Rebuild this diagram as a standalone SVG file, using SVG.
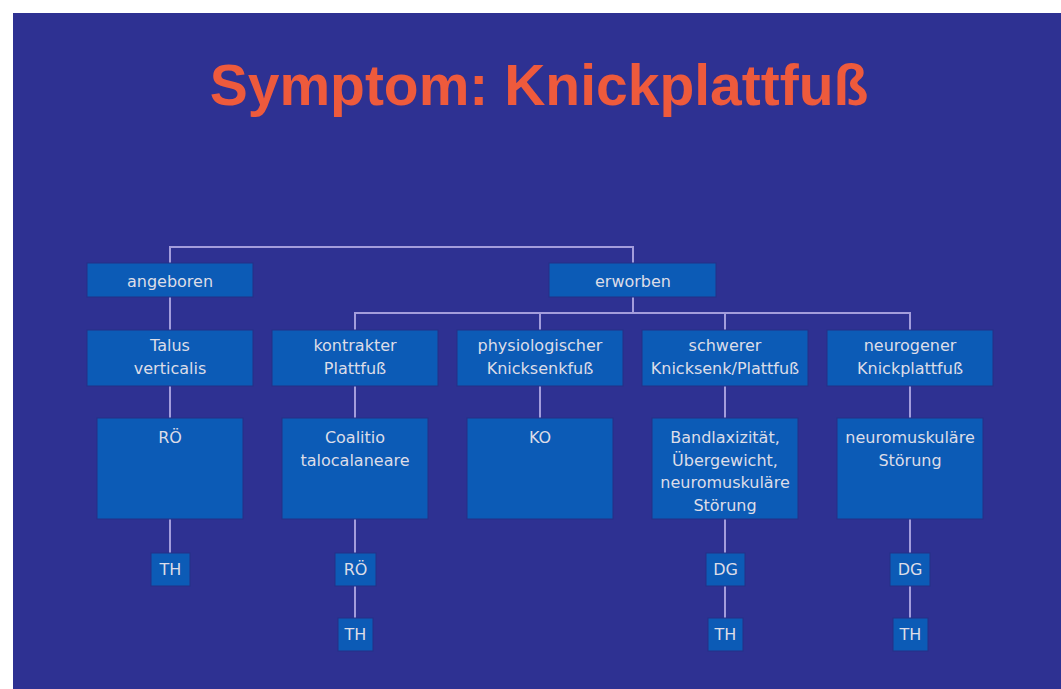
<svg xmlns="http://www.w3.org/2000/svg" width="1061" height="689" viewBox="0 0 1061 689">
<style>
.bx{fill:#0c5bb6;stroke:#243086;stroke-width:1}
.t{font-family:"DejaVu Sans",sans-serif;font-size:16px;fill:#dcdde8;text-anchor:middle}
.ln{stroke:#a39ddc;stroke-width:2;fill:none}
.title{font-family:"Liberation Sans",Arial,sans-serif;font-weight:bold;font-size:57px;fill:#ee5a3c;text-anchor:middle}
</style>
<rect x="0" y="0" width="1061" height="689" fill="#ffffff"/>
<rect x="13" y="13" width="1048" height="676" fill="#2e3192"/>
<text class="title" x="539" y="105">Symptom: Knickplattfuß</text>
<g id="connectors">
<path class="ln" d="M170 263V247H633V263"/>
<path class="ln" d="M633 297V313M355 330V313H910V330M540 313V330M725 313V330"/>
<path class="ln" d="M170 297V330"/>
<path class="ln" d="M170 386V418M355 386V418M540 386V418M725 386V418M910 386V418"/>
<path class="ln" d="M170 519V553M355 519V553M725 519V553M910 519V553"/>
<path class="ln" d="M355 586V618M725 586V618M910 586V618"/>
</g>
<g id="angeboren"><rect class="bx" x="87" y="263" width="166" height="34"/><text class="t" x="170" y="287">angeboren</text></g>
<g id="erworben"><rect class="bx" x="549" y="263" width="167" height="34"/><text class="t" x="633" y="287">erworben</text></g>
<g id="talus"><rect class="bx" x="87" y="330" width="166" height="56"/><text class="t" x="170" y="351">Talus</text><text class="t" x="170" y="374">verticalis</text></g>
<g id="kontrakter"><rect class="bx" x="272" y="330" width="166" height="56"/><text class="t" x="355" y="351">kontrakter</text><text class="t" x="355" y="374">Plattfuß</text></g>
<g id="physiologisch"><rect class="bx" x="457" y="330" width="166" height="56"/><text class="t" x="540" y="351">physiologischer</text><text class="t" x="540" y="374">Knicksenkfuß</text></g>
<g id="schwerer"><rect class="bx" x="642" y="330" width="166" height="56"/><text class="t" x="725" y="351">schwerer</text><text class="t" x="725" y="374">Knicksenk/Plattfuß</text></g>
<g id="neurogener"><rect class="bx" x="827" y="330" width="166" height="56"/><text class="t" x="910" y="351">neurogener</text><text class="t" x="910" y="374">Knickplattfuß</text></g>
<g id="ro1"><rect class="bx" x="97" y="418" width="146" height="101"/><text class="t" x="170" y="443">RÖ</text></g>
<g id="coalitio"><rect class="bx" x="282" y="418" width="146" height="101"/><text class="t" x="355" y="443">Coalitio</text><text class="t" x="355" y="466">talocalaneare</text></g>
<g id="ko"><rect class="bx" x="467" y="418" width="146" height="101"/><text class="t" x="540" y="443">KO</text></g>
<g id="bandlax"><rect class="bx" x="652" y="418" width="146" height="101"/><text class="t" x="725" y="443">Bandlaxizität,</text><text class="t" x="725" y="466">Übergewicht,</text><text class="t" x="725" y="488">neuromuskuläre</text><text class="t" x="725" y="511">Störung</text></g>
<g id="neuromusk"><rect class="bx" x="837" y="418" width="146" height="101"/><text class="t" x="910" y="443">neuromuskuläre</text><text class="t" x="910" y="466">Störung</text></g>
<g id="th1"><rect class="bx" x="151" y="553" width="39" height="33"/><text class="t" x="170.5" y="575">TH</text></g>
<g id="ro2"><rect class="bx" x="335" y="553" width="41" height="33"/><text class="t" x="355.5" y="575">RÖ</text></g>
<g id="th2"><rect class="bx" x="338" y="618" width="35" height="33"/><text class="t" x="355.5" y="640">TH</text></g>
<g id="dg1"><rect class="bx" x="706" y="553" width="39" height="33"/><text class="t" x="725.5" y="575">DG</text></g>
<g id="th3"><rect class="bx" x="708" y="618" width="35" height="33"/><text class="t" x="725.5" y="640">TH</text></g>
<g id="dg2"><rect class="bx" x="890" y="553" width="40" height="33"/><text class="t" x="910" y="575">DG</text></g>
<g id="th4"><rect class="bx" x="893" y="618" width="35" height="33"/><text class="t" x="910.5" y="640">TH</text></g>
</svg>
